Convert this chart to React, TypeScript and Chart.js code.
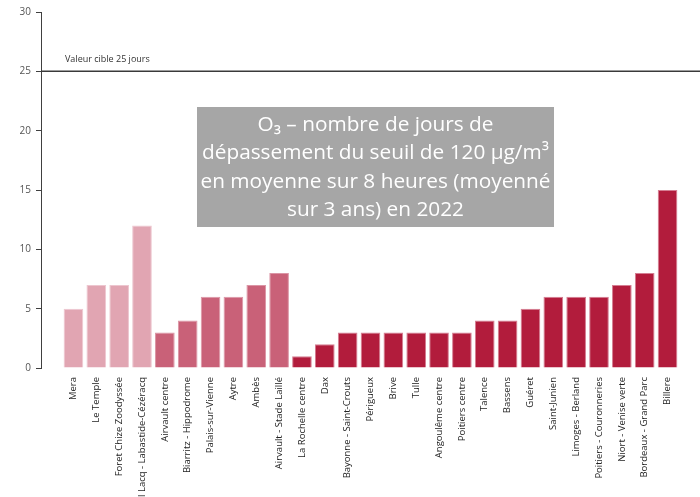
import React, { useEffect, useRef } from "react";
import { Chart, registerables } from "chart.js";

Chart.register(...registerables);

const stations: string[] = [
  "Mera",
  "Le Temple",
  "Foret Chize Zoodyssée",
  "Parc industriel Lacq - Labastide-Cézéracq",
  "Airvault centre",
  "Biarritz - Hippodrome",
  "Palais-sur-Vienne",
  "Aytre",
  "Ambès",
  "Airvault - Stade Laillé",
  "La Rochelle centre",
  "Dax",
  "Bayonne - Saint-Crouts",
  "Périgueux",
  "Brive",
  "Tulle",
  "Angoulême centre",
  "Poitiers centre",
  "Talence",
  "Bassens",
  "Guéret",
  "Saint-Junien",
  "Limoges - Berland",
  "Poitiers - Couronneries",
  "Niort - Venise verte",
  "Bordeaux - Grand Parc",
  "Billere",
];

const joursDepassement: number[] = [
  5, 7, 7, 12, 3, 4, 6, 6, 7, 8, 1, 2, 3, 3, 3, 3, 3, 3, 4, 4, 5, 6, 6, 6, 7, 8, 15,
];

// colour group of each station (0 = light, 1 = medium, 2 = dark)
const stationGroup: number[] = [
  0, 0, 0, 0, 1, 1, 1, 1, 1, 1, 2, 2, 2, 2, 2, 2, 2, 2, 2, 2, 2, 2, 2, 2, 2, 2, 2,
];

const yTicks: number[] = [0, 5, 10, 15, 20, 25, 30];
const targetValue = 25;
const targetLabel = "Valeur cible 25 jours";
const titleLines: string[] = [
  "O₃ – nombre de jours de",
  "dépassement du seuil de 120 µg/m³",
  "en moyenne sur 8 heures (moyenné",
  "sur 3 ans) en 2022",
];

const groupFill = ["#E1A5B2", "#C96178", "#B21C3C"];
const groupBorder = ["#EDC6CF", "#DB95A5", "#D57E92"];
const FONT = "'Open Sans', sans-serif";

const overlayPlugin = {
  id: "overlay",
  afterDatasetsDraw(chart: any) {
    const { ctx, chartArea, scales } = chart;
    const y = scales.y.getPixelForValue(targetValue);
    ctx.save();
    ctx.strokeStyle = "#3a3a3a";
    ctx.lineWidth = 1.5;
    ctx.beginPath();
    ctx.moveTo(chartArea.left, y);
    ctx.lineTo(chartArea.right, y);
    ctx.stroke();
    ctx.fillStyle = "#333333";
    ctx.font = `9px ${FONT}`;
    ctx.textAlign = "left";
    ctx.textBaseline = "alphabetic";
    ctx.fillText(targetLabel, chartArea.left + 24, y - 9);

    // title box
    const bx = 197, by = 107, bw = 357, bh = 120;
    ctx.fillStyle = "#A6A6A6";
    ctx.fillRect(bx, by, bw, bh);
    ctx.fillStyle = "#FFFFFF";
    ctx.font = `20.8px ${FONT}`;
    ctx.textAlign = "center";
    ctx.textBaseline = "middle";
    titleLines.forEach((line, i) => {
      ctx.fillText(line, bx + bw / 2, by + 18 + i * 28.5);
    });
    ctx.restore();
  },
};

export default function App() {
  const ref = useRef<HTMLCanvasElement | null>(null);
  useEffect(() => {
    if (!ref.current) return;
    const chart = new Chart(ref.current, {
      type: "bar",
      data: {
        datasets: [
          {
            data: joursDepassement.map((v, i) => ({ x: i, y: v })),
            backgroundColor: stationGroup.map((g) => groupFill[g]),
            borderColor: stationGroup.map((g) => groupBorder[g]),
            borderWidth: 1,
            barPercentage: 0.86,
            categoryPercentage: 1,
          },
        ],
      },
      plugins: [overlayPlugin],
      options: {
        animation: false,
        responsive: false,
        devicePixelRatio: 1,
        layout: { padding: { top: 12, left: 0, right: 0, bottom: 0 } },
        plugins: { legend: { display: false }, tooltip: { enabled: false }, title: { display: false } },
        scales: {
          x: {
            type: "linear",
            offset: false,
            min: -1.42,
            max: stations.length - 1 + 1.42,
            grid: { display: false, drawTicks: false, offset: false },
            border: { display: false },
            afterFit: (s: any) => {
              s.height = 129;
              s.paddingLeft = 0;
              s.paddingRight = 0;
            },
            ticks: {
              stepSize: 1,
              includeBounds: false,
              autoSkip: false,
              minRotation: 90,
              maxRotation: 90,
              padding: 9,
              color: "#222222",
              font: { size: 9.5, family: FONT },
              callback: (v: any) => (Number.isInteger(v) && stations[v] !== undefined ? stations[v] : ""),
            },
          },
          y: {
            min: 0,
            max: 30,
            afterFit: (s: any) => {
              s.width = 41;
              s.paddingTop = 0;
              s.paddingBottom = 0;
            },
            afterBuildTicks: (s: any) => {
              s.ticks = yTicks.map((v) => ({ value: v }));
            },
            grid: { drawOnChartArea: false, drawTicks: true, tickLength: 5, color: "#404040" },
            border: { display: true, color: "#404040", width: 1 },
            ticks: {
              padding: 5,
              color: "#555555",
              font: { size: 10, family: FONT },
            },
          },
        },
      },
    });
    return () => chart.destroy();
  }, []);
  return (
    <div style={{ position: "fixed", left: 0, top: 0, width: 700, height: 497, background: "#fff" }}>
      <canvas ref={ref} width={700} height={497} />
    </div>
  );
}
